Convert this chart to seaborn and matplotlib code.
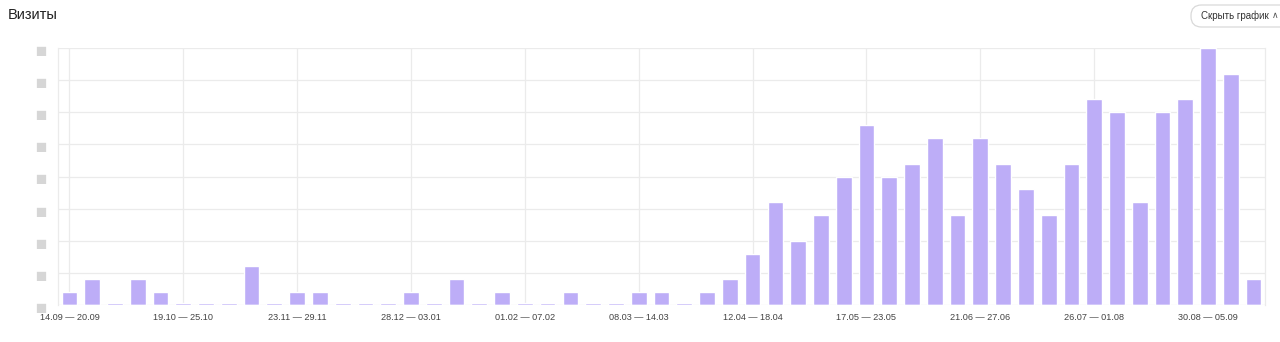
import numpy as np
import pandas as pd
import matplotlib
matplotlib.use("Agg")
import matplotlib.pyplot as plt
import seaborn as sns
from matplotlib.patches import FancyBboxPatch

# ---- data ----
visits = [1, 2, 0, 2, 1, 0, 0, 0, 3, 0,
          1, 1, 0, 0, 0, 1, 0, 2, 0, 1,
          0, 0, 1, 0, 0, 1, 1, 0, 1, 2,
          4, 8, 5, 7, 10, 14, 10, 11, 13, 7,
          13, 11, 9, 7, 11, 16, 15, 8, 15, 16,
          20, 18, 2]
week_index = list(range(len(visits)))
tick_positions = [0, 5, 10, 15, 20, 25, 30, 35, 40, 45, 50]
tick_labels = ["14.09 — 20.09", "19.10 — 25.10", "23.11 — 29.11", "28.12 — 03.01",
               "01.02 — 07.02", "08.03 — 14.03", "12.04 — 18.04", "17.05 — 23.05",
               "21.06 — 27.06", "26.07 — 01.08", "30.08 — 05.09"]
y_ticks = [0, 2.5, 5, 7.5, 10, 12.5, 15, 17.5, 20]

title = "Визиты"
button_text = "Скрыть график"
button_caret = "∧"

sns.set_theme(style="white")
plt.rcParams['font.family'] = ['Liberation Sans', 'DejaVu Sans']

df = pd.DataFrame({"week": week_index, "visits": visits})
df["stub"] = np.where(df["visits"] == 0, 0.12, 0.0)

fig = plt.figure(figsize=(12.8, 3.42), dpi=100)
ax = fig.add_axes([58/1280, 37/342, (1265-58)/1280, (305-48)/342])

bar_color = "#bdadf7"
sns.barplot(data=df, x="week", y="visits", color=bar_color, saturation=1,
            width=0.69, ax=ax, errorbar=None, zorder=3)
sns.barplot(data=df, x="week", y="stub", color=bar_color, saturation=1,
            width=0.69, ax=ax, errorbar=None, zorder=3)

ax.set_xlim(-0.5, len(visits) - 0.5)
ax.set_ylim(0, 20)
ax.set_yticks(y_ticks)
ax.set_yticklabels(["▆" for _ in y_ticks], color="#d6d6d6", fontsize=8.5,
                   family=['DejaVu Sans'])
ax.set_xticks(tick_positions)
ax.set_xticklabels(tick_labels, fontsize=6.6, color="#444444")
ax.tick_params(axis="x", length=0, pad=6)
ax.tick_params(axis="y", length=0, pad=9)
ax.set_xlabel("")
ax.set_ylabel("")

ax.grid(True, axis="y", color="#ebebeb", linewidth=0.9, zorder=0)
ax.grid(True, axis="x", color="#ebebeb", linewidth=0.9, zorder=0)
ax.set_axisbelow(True)
for side in ["top", "bottom"]:
    ax.spines[side].set_visible(False)
for side in ["left", "right"]:
    ax.spines[side].set_color("#ebebeb")
    ax.spines[side].set_linewidth(0.9)

fig.text(8/1280, 1 - 15/342, title, fontsize=10.5, color="#222222",
         va="center", ha="left")

# button (pill) drawn in a small pixel-unit axes
bax = fig.add_axes([1190/1280, (342 - 28)/342, 100/1280, 24/342])
bax.set_xlim(0, 100)
bax.set_ylim(0, 24)
bax.axis("off")
bax.add_patch(FancyBboxPatch((1, 1), 110, 22,
                             boxstyle="round,pad=0,rounding_size=10.5",
                             facecolor="white", edgecolor="#d9d9d9",
                             linewidth=0.9, clip_on=False))
bax.text(11, 12, button_text, fontsize=7.0, color="#333333",
         va="center", ha="left")
bax.text(82, 12.5, button_caret, fontsize=6.5, color="#555555",
         va="center", ha="left", family=['DejaVu Sans'])

fig.savefig("out.png", dpi=100, facecolor="white")
